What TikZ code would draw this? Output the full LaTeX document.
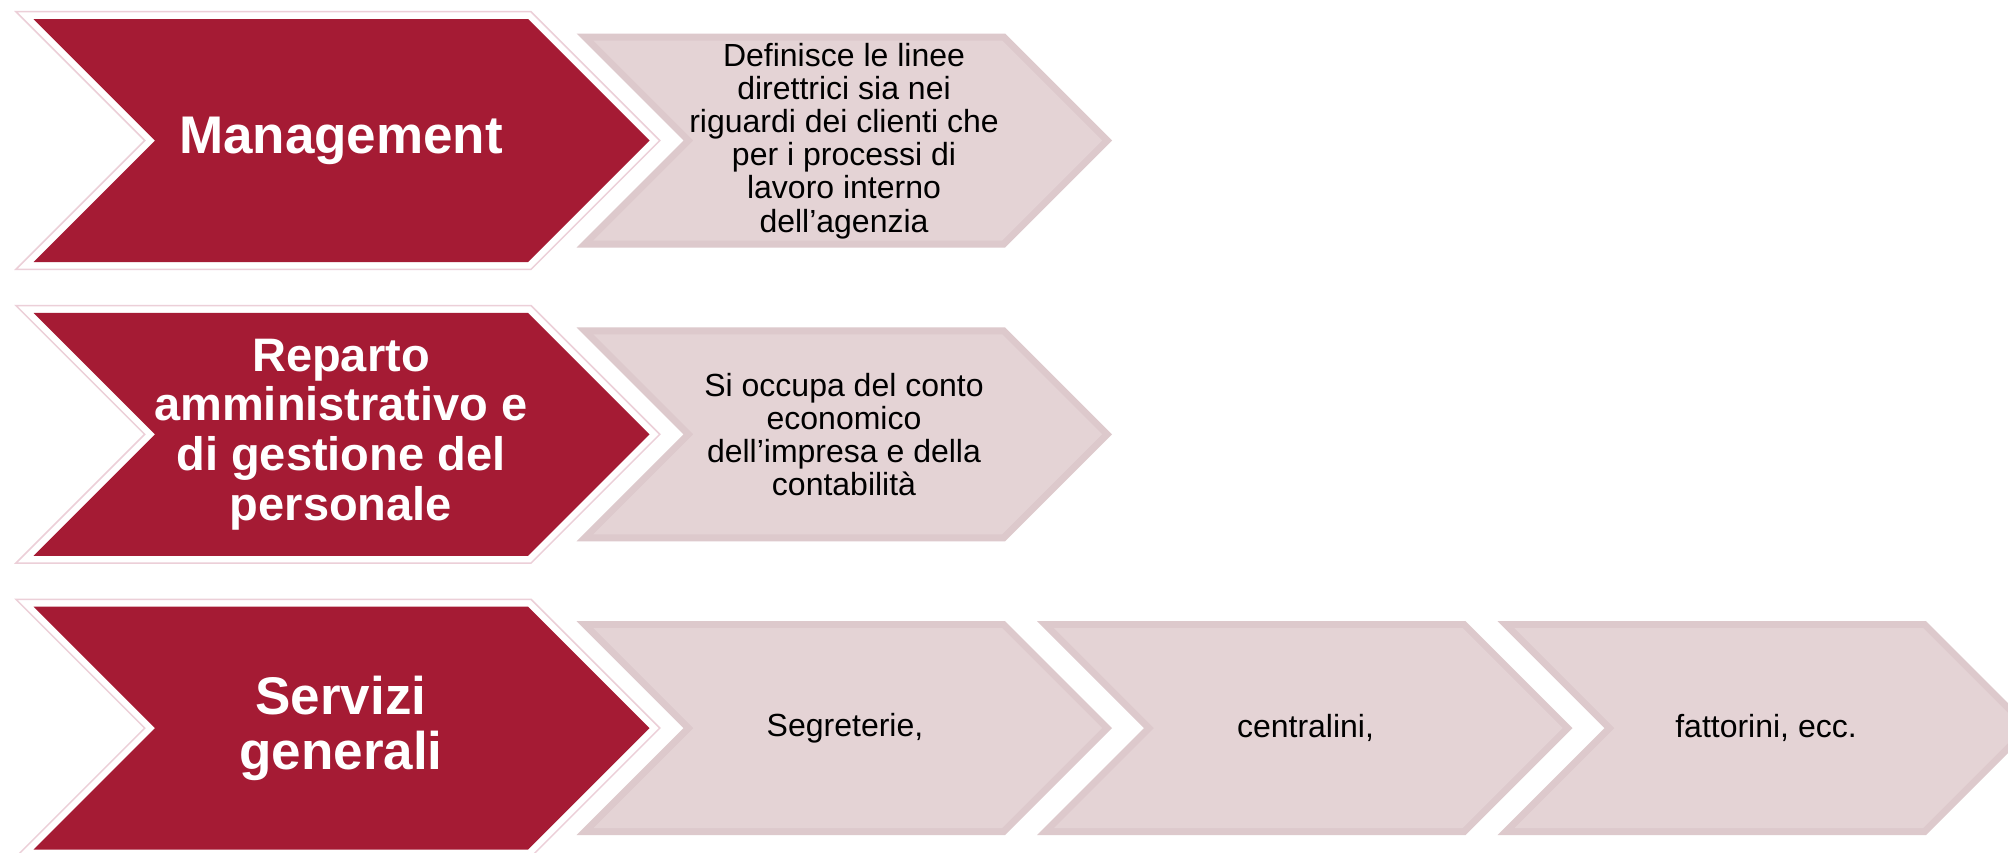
\documentclass[tikz,border=0pt]{standalone}
\usepackage{fontspec}
\setmainfont{Liberation Sans}
\definecolor{darkred}{RGB}{165,27,52}
\definecolor{outlinepink}{RGB}{236,207,216}
\definecolor{lightborder}{RGB}{221,201,204}
\definecolor{lightfill}{RGB}{228,211,213}
\newcommand\chevshape[4]{({#1},{#2-#3}) -- ({#1+#4},{#2-#3}) -- ({#1+#4+#3},{#2}) -- ({#1+#4},{#2+#3}) -- ({#1},{#2+#3}) -- ({#1+#3},{#2}) -- cycle}
\newcommand\darkchev[1]{%
  \filldraw[fill=white,draw=outlinepink,line width=1.5] \chevshape{15.9}{#1}{128.8}{515.1};
  \fill[darkred] \chevshape{33.5}{#1}{121.5}{494.5};}
\newcommand\lightchev[2]{%
  \fill[lightborder] \chevshape{#1}{#2}{107}{428.5};
  \fill[lightfill] \chevshape{#1+16.9}{#2}{100}{408.7};}
\tikzset{
  darktext/.style={text=white,align=center,font=\bfseries\fontsize{53}{55}\selectfont},
  darktextsmall/.style={text=white,align=center,font=\bfseries\fontsize{47}{49.7}\selectfont},
  lighttext/.style={text=black,align=center,font=\fontsize{32}{33.1}\selectfont}
}
\begin{document}
\begin{tikzpicture}[x=1pt,y=-1pt]
\useasboundingbox (0,0) rectangle (2008,852);
\clip (0,0) rectangle (2008,852);
\fill[white] (0,0) rectangle (2008,852);
% row 1
\darkchev{140.5}
\lightchev{576.5}{140.5}
\node[darktext] (m) at (341,140.5) {Management};
\node[lighttext] (md) at (844,141) {Definisce le linee\\direttrici sia nei\\riguardi dei clienti che\\per i processi di\\lavoro interno\\dell’agenzia};
% row 2
\darkchev{434.3}
\lightchev{576.5}{434.3}
\node[darktextsmall] (r) at (341,434.3) {Reparto\\amministrativo e\\di gestione del\\personale};
\node[lighttext] (rd) at (844,434.3) {Si occupa del conto\\economico\\dell’impresa e della\\contabilità};
% row 3
\darkchev{728.1}
\lightchev{576.5}{728.1}
\lightchev{1037}{728.1}
\lightchev{1497.5}{728.1}
\node[darktext] (s) at (341,728.1) {Servizi\\generali};
\node[lighttext] (s1) at (845,728.1) {Segreterie,};
\node[lighttext] (s2) at (1305.5,728.1) {centralini,};
\node[lighttext] (s3) at (1766,728.1) {fattorini, ecc.};
\end{tikzpicture}
\end{document}
